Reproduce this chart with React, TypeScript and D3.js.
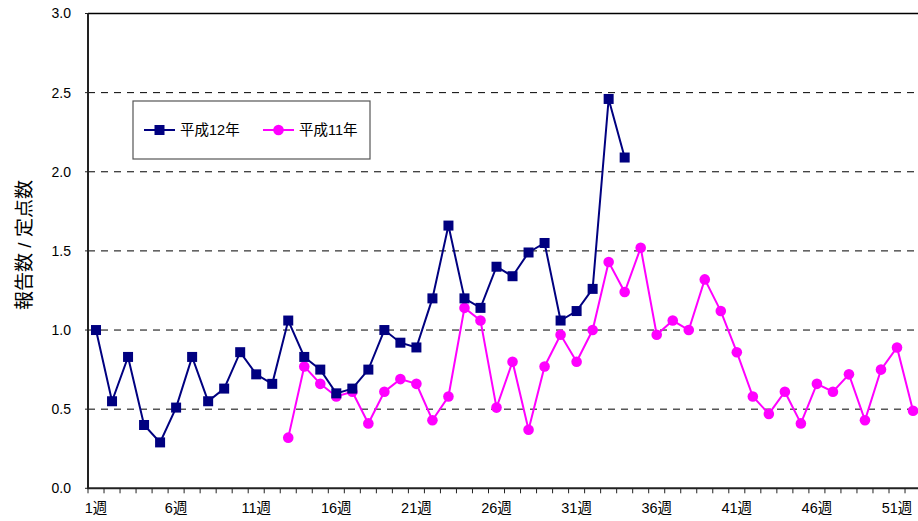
import React from "react";
import * as d3 from "d3";

const weeks: number[] = d3.range(1, 53);
const weekLabels: string[] = ["1週", "6週", "11週", "16週", "21週", "26週", "31週", "36週", "41週", "46週", "51週"];
const labelWeeks: number[] = [1, 6, 11, 16, 21, 26, 31, 36, 41, 46, 51];
const yTicks: number[] = [0, 0.5, 1.0, 1.5, 2.0, 2.5, 3.0];

// 平成12年: weeks 1..34
const h12Values: number[] = [
  1.0, 0.55, 0.83, 0.4, 0.29, 0.51, 0.83, 0.55, 0.63, 0.86,
  0.72, 0.66, 1.06, 0.83, 0.75, 0.6, 0.63, 0.75, 1.0, 0.92,
  0.89, 1.2, 1.66, 1.2, 1.14, 1.4, 1.34, 1.49, 1.55, 1.06,
  1.12, 1.26, 2.46, 2.09,
];
// 平成11年: weeks 13..52
const h11StartWeek = 13;
const h11Values: number[] = [
  0.32, 0.77, 0.66, 0.58, 0.61, 0.41, 0.61, 0.69, 0.66, 0.43,
  0.58, 1.14, 1.06, 0.51, 0.8, 0.37, 0.77, 0.97, 0.8, 1.0,
  1.43, 1.24, 1.52, 0.97, 1.06, 1.0, 1.32, 1.12, 0.86, 0.58,
  0.47, 0.61, 0.41, 0.66, 0.61, 0.72, 0.43, 0.75, 0.89, 0.49,
];

const seriesNames: string[] = ["平成12年", "平成11年"];
const yTitle = "報告数 / 定点数";
const NAVY = "#000080";
const MAGENTA = "#FF00FF";
const FONT = "'Liberation Sans', Arial, 'Noto Sans CJK JP', sans-serif";

export default function App() {
  const W = 918, H = 521;
  const left = 88, top = 13.5, bottom = 488.3;
  const right = left + 52 * 16.02;

  const x = d3.scaleBand<number>().domain(weeks).range([left, right]).padding(0);
  const cx = (w: number) => (x(w) as number) + x.bandwidth() / 2;
  const y = d3.scaleLinear().domain([0, 3]).range([bottom, top]);

  const h12 = h12Values.map((v, i) => ({ w: i + 1, v }));
  const h11 = h11Values.map((v, i) => ({ w: h11StartWeek + i, v }));
  const line = d3.line<{ w: number; v: number }>().x(d => cx(d.w)).y(d => y(d.v));

  const boundaries = d3.range(0, 53).map(i => left + i * x.bandwidth());

  return (
    <svg width={W} height={H} style={{ position: "absolute", left: 0, top: 0, background: "#fff" }} fontFamily={FONT}>
      <rect x={0} y={0} width={W} height={H} fill="#fff" />
      {/* gridlines */}
      {yTicks.filter(t => t > 0 && t < 3).map(t => (
        <line key={t} x1={left} x2={right} y1={y(t)} y2={y(t)} stroke="#000" strokeWidth={1} strokeDasharray="7,6" />
      ))}
      {/* top border */}
      <line x1={left} x2={right} y1={y(3)} y2={y(3)} stroke="#000" strokeWidth={1.4} />
      {/* y ticks small */}
      {yTicks.map(t => (
        <line key={"yt" + t} x1={left - 3} x2={left} y1={y(t)} y2={y(t)} stroke="#222" strokeWidth={1} />
      ))}
      {/* axes */}
      <line x1={left} x2={left} y1={top} y2={bottom} stroke="#222" strokeWidth={2} />
      <line x1={left - 1} x2={right} y1={bottom} y2={bottom} stroke="#222" strokeWidth={2} />
      {boundaries.map((bx, i) => (
        <line key={"xt" + i} x1={bx} x2={bx} y1={bottom} y2={bottom + 5} stroke="#222" strokeWidth={1} />
      ))}
      {/* y labels */}
      {yTicks.map(t => (
        <text key={"yl" + t} x={71} y={y(t)} dy="0.35em" textAnchor="end" fontSize={14} fill="#000">
          {t.toFixed(1)}
        </text>
      ))}
      {/* x labels */}
      {labelWeeks.map((w, i) => (
        <text key={"xl" + w} x={cx(w)} y={508} dy="0.35em" textAnchor="middle" fontSize={14.5} fill="#000">
          {weekLabels[i]}
        </text>
      ))}
      {/* y title */}
      <text transform={`translate(24,245) rotate(-90)`} textAnchor="middle" dy="0.35em" fontSize={19} fill="#000">
        {yTitle}
      </text>
      {/* series 11 */}
      <path d={line(h11) as string} fill="none" stroke={MAGENTA} strokeWidth={2} />
      {h11.map(d => (
        <circle key={"c" + d.w} cx={cx(d.w)} cy={y(d.v)} r={5.3} fill={MAGENTA} />
      ))}
      {/* series 12 */}
      <path d={line(h12) as string} fill="none" stroke={NAVY} strokeWidth={2} />
      {h12.map(d => (
        <rect key={"s" + d.w} x={cx(d.w) - 5} y={y(d.v) - 5} width={10} height={10} fill={NAVY} />
      ))}
      {/* legend */}
      <rect x={133} y={101} width={237} height={58} fill="#fff" stroke="#555" strokeWidth={1.2} />
      <line x1={144} x2={175} y1={130} y2={130} stroke={NAVY} strokeWidth={2} />
      <rect x={154.5} y={125} width={10} height={10} fill={NAVY} />
      <text x={180} y={130} dy="0.35em" fontSize={14.5} fill="#000">{seriesNames[0]}</text>
      <line x1={263} x2={294} y1={130} y2={130} stroke={MAGENTA} strokeWidth={2} />
      <circle cx={278.5} cy={130} r={5.3} fill={MAGENTA} />
      <text x={299} y={130} dy="0.35em" fontSize={14.5} fill="#000">{seriesNames[1]}</text>
    </svg>
  );
}
